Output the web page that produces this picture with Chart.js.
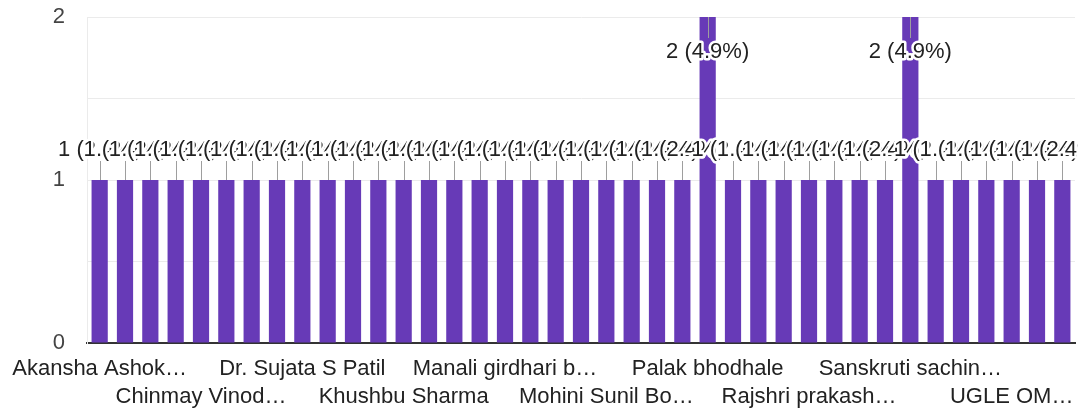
<!DOCTYPE html>
<html>
<head>
<meta charset="utf-8">
<script src="https://cdn.jsdelivr.net/npm/chart.js@4"></script>
<style>
  html, body { margin: 0; padding: 0; background: #fff; }
  #wrap { width: 1078px; height: 411px; position: relative; }
</style>
</head>
<body>
<div id="wrap"><canvas id="responses-chart"></canvas></div>
<script>
const names = [
  "Akansha Ashok…", "Aniket Patil", "Anjali Deshmukh", "Bhavana Kale",
  "Chinmay Vinod…", "Darshan More", "Diksha Jadhav", "Divya Shinde",
  "Dr. Sujata S Patil", "Gauri Pawar", "Harshada Mane", "Kajal Gaikwad",
  "Khushbu Sharma", "Komal Chavan", "Madhuri Salunkhe", "Mahesh Kulkarni",
  "Manali girdhari b…", "Manisha Bhosale", "Megha Thorat", "Mohan Wagh",
  "Mohini Sunil Bo…", "Neha Patil", "Nilesh Kadam", "Omkar Joshi",
  "Palak bhodhale", "Pooja Lokhande", "Prachi Nikam", "Priyanka Mhatre",
  "Rajshri prakash…", "Rohini Shelke", "Sakshi Gunjal", "Sanket Bhagat",
  "Sanskruti sachin…", "Shital Ghule", "Shraddha Ingle", "Sneha Waghmare",
  "UGLE OM…", "Vaishnavi Kolhe", "Yogesh Patil"
];
const counts = [
  1, 1, 1, 1, 1, 1, 1, 1, 1, 1, 1, 1, 1,
  1, 1, 1, 1, 1, 1, 1, 1, 1, 1, 1, 2, 1,
  1, 1, 1, 1, 1, 1, 2, 1, 1, 1, 1, 1, 1
];
const yTicks = [0, 1, 2];

const FONT = "'Liberation Sans', Arial, sans-serif";
const total = counts.reduce((a, b) => a + b, 0);

// draws "n (x%)" annotations with a small grey stem, like google forms
const barLabels = {
  id: "barLabels",
  afterDatasetsDraw(chart) {
    const ctx = chart.ctx;
    const meta = chart.getDatasetMeta(0);
    const yMax = chart.scales.y.max;
    const spots = meta.data.map((bar, i) => {
      const v = counts[i];
      const inside = v >= yMax;
      return {
        x: bar.x,
        top: bar.y,
        inside,
        textY: inside ? bar.y + 35 : bar.y - 30,
        text: v + " (" + (v / total * 100).toFixed(1) + "%)",
      };
    });

    ctx.save();
    ctx.strokeStyle = "#9e9e9e";
    ctx.lineWidth = 1;
    spots.forEach((s) => {
      const x = Math.round(s.x) + 0.5;
      ctx.beginPath();
      if (s.inside) {
        ctx.moveTo(x, s.top);
        ctx.lineTo(x, s.top + 21);
      } else {
        ctx.moveTo(x, s.top - 19);
        ctx.lineTo(x, s.top);
      }
      ctx.stroke();
    });

    ctx.font = "22px " + FONT;
    ctx.textAlign = "center";
    ctx.textBaseline = "middle";
    ctx.lineJoin = "round";
    spots.forEach((s) => {
      ctx.strokeStyle = "#fff";
      ctx.lineWidth = 5;
      ctx.strokeText(s.text, s.x, s.textY);
      ctx.fillStyle = "#222";
      ctx.fillText(s.text, s.x, s.textY);
    });
    ctx.restore();
  },
};

new Chart(document.getElementById("responses-chart"), {
  type: "bar",
  data: {
    labels: names,
    datasets: [
      {
        data: counts,
        backgroundColor: "#673ab7",
        borderWidth: 0,
        categoryPercentage: 1,
        barPercentage: 0.64,
      },
    ],
  },
  options: {
    responsive: true,
    maintainAspectRatio: false,
    animation: false,
    events: [],
    layout: { padding: { top: 0, right: 3, left: 0, bottom: 0 } },
    plugins: {
      legend: { display: false },
      tooltip: { enabled: false },
    },
    scales: {
      x: {
        grid: { display: false },
        border: { color: "#333", width: 2 },
        ticks: {
          autoSkip: false,
          maxRotation: 0,
          minRotation: 0,
          padding: 4,
          color: "#222",
          font: { family: FONT, size: 22, lineHeight: 1.28 },
          callback(value, index) {
            if (index % 8 === 0) return [names[index]];
            if (index % 8 === 4) return ["", names[index]];
            return "";
          },
        },
        afterFit(scale) {
          scale.height = 68;
        },
      },
      y: {
        min: 0,
        max: 2,
        grid: { color: "#ebebeb", drawTicks: false },
        border: { color: "#ebebeb" },
        ticks: {
          stepSize: 0.5,
          padding: 22,
          color: "#444",
          font: { family: FONT, size: 22 },
          callback(value) {
            return yTicks.includes(value) ? String(value) : "";
          },
        },
        afterFit(scale) {
          scale.width = 87;
          scale.paddingTop = 17;
          scale.paddingBottom = 0;
        },
      },
    },
  },
  plugins: [barLabels],
});
</script>
</body>
</html>
